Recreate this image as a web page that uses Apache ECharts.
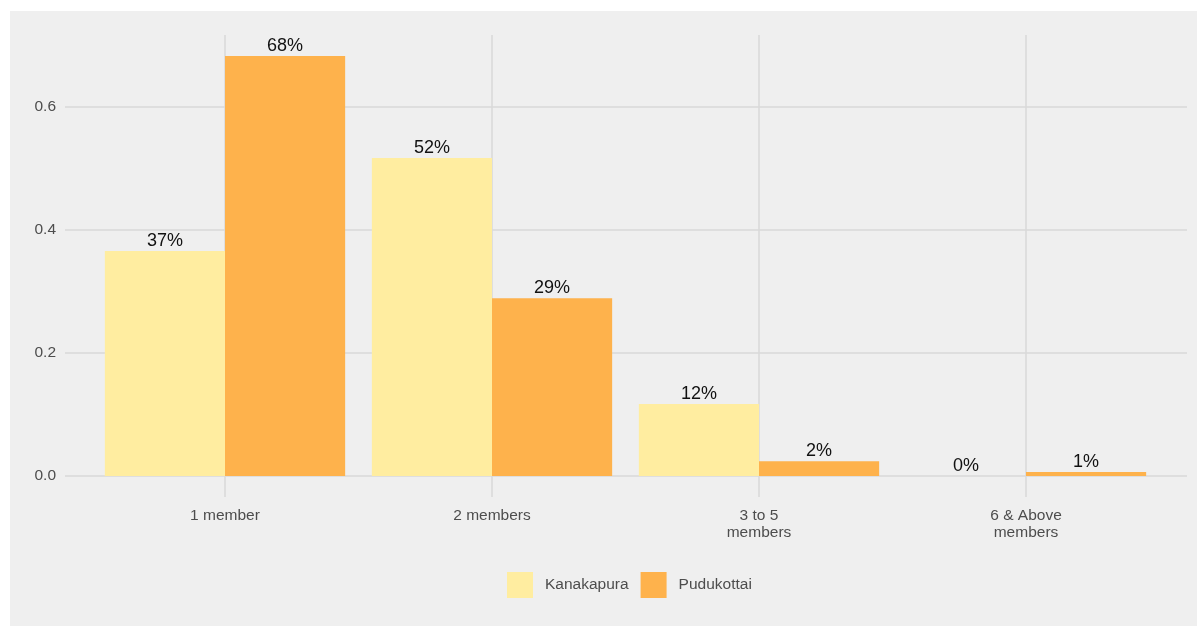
<!DOCTYPE html>
<html>
<head>
<meta charset="utf-8">
<script src="https://cdn.jsdelivr.net/npm/echarts@6/dist/echarts.min.js"></script>
<style>
  html, body { margin: 0; padding: 0; background: #ffffff; }
  #chart { width: 1197px; height: 626px; }
</style>
</head>
<body>
<div id="chart"></div>
<script>
// Household size categories and share of households per district
const categories = ['1 member', '2 members', '3 to 5\nmembers', '6 & Above\nmembers'];
const kanakapura = [0.366, 0.517, 0.117, 0.0];
const pudukottai = [0.683, 0.289, 0.024, 0.0065];
const yTicks = [0, 0.2, 0.4, 0.6];

const gridColor = '#d9d9d9';
const fontFamily = '"Liberation Sans", Arial, sans-serif';
const yMin = -0.0342, yMax = 0.7172;

const chart = echarts.init(document.getElementById('chart'), null, { renderer: 'canvas' });

const pctLabel = {
  show: true,
  position: 'top',
  distance: 1,
  color: '#111111',
  fontSize: 18,
  fontFamily: fontFamily,
  formatter: p => Math.round(p.value * 100) + '%'
};

chart.setOption({
  animation: false,
  backgroundColor: 'transparent',
  graphic: [{
    type: 'rect',
    z: -10,
    shape: { x: 10, y: 11, width: 1187, height: 615 },
    style: { fill: '#efefef' },
    silent: true
  }],
  grid: [
    // full panel: horizontal gridlines and y labels
    { left: 65, right: 10, top: 35, bottom: 129 },
    // bars, with half a band of extra room at each side
    { left: 91.5, right: 37.5, top: 35, bottom: 129 }
  ],
  legend: {
    data: ['Kanakapura', 'Pudukottai'],
    left: 507,
    top: 572,
    padding: 0,
    itemWidth: 26,
    itemHeight: 26,
    itemGap: 12,
    icon: 'rect',
    textStyle: { color: '#4d4d4d', fontSize: 15.5, fontFamily: fontFamily, padding: [0, 0, 0, 7] }
  },
  xAxis: [
    {
      gridIndex: 0,
      type: 'value',
      min: 0, max: 1,
      show: false
    },
    {
      gridIndex: 1,
      type: 'category',
      data: categories,
      axisLine: { show: false },
      axisTick: { show: false },
      splitLine: { show: false },
      axisLabel: { color: '#4d4d4d', fontSize: 15.5, fontFamily: fontFamily, margin: 10, lineHeight: 17 }
    }
  ],
  yAxis: [
    {
      gridIndex: 0,
      type: 'value',
      min: yMin,
      max: yMax,
      axisLine: { show: false },
      axisTick: { show: false },
      splitLine: { show: false },
      axisLabel: {
        color: '#4d4d4d', fontSize: 15.5, fontFamily: fontFamily, margin: 9,
        customValues: yTicks,
        formatter: v => v.toFixed(1)
      }
    },
    {
      gridIndex: 1,
      type: 'value',
      min: yMin,
      max: yMax,
      show: false
    }
  ],
  series: [
    {
      // horizontal gridlines across the panel
      name: 'hgrid',
      type: 'line',
      xAxisIndex: 0,
      yAxisIndex: 0,
      data: [],
      z: 0,
      silent: true,
      markLine: {
        silent: true,
        symbol: 'none',
        label: { show: false },
        lineStyle: { color: gridColor, width: 1.5, type: 'solid' },
        data: yTicks.map(v => ({ yAxis: v }))
      }
    },
    {
      // vertical gridlines at category centres
      name: 'vgrid',
      type: 'line',
      xAxisIndex: 1,
      yAxisIndex: 1,
      data: [],
      z: 0,
      silent: true,
      markLine: {
        silent: true,
        symbol: 'none',
        label: { show: false },
        lineStyle: { color: gridColor, width: 1.5, type: 'solid' },
        data: categories.map(c => ({ xAxis: c }))
      }
    },
    {
      name: 'Kanakapura',
      type: 'bar',
      xAxisIndex: 1,
      yAxisIndex: 1,
      zlevel: 1,
      z: 2,
      data: kanakapura,
      barGap: '0%',
      barCategoryGap: '10%',
      itemStyle: { color: '#ffeda0' },
      label: pctLabel
    },
    {
      name: 'Pudukottai',
      type: 'bar',
      xAxisIndex: 1,
      yAxisIndex: 1,
      zlevel: 1,
      z: 2,
      data: pudukottai,
      barGap: '0%',
      barCategoryGap: '10%',
      itemStyle: { color: '#feb24c' },
      label: pctLabel
    }
  ]
});
</script>
</body>
</html>
